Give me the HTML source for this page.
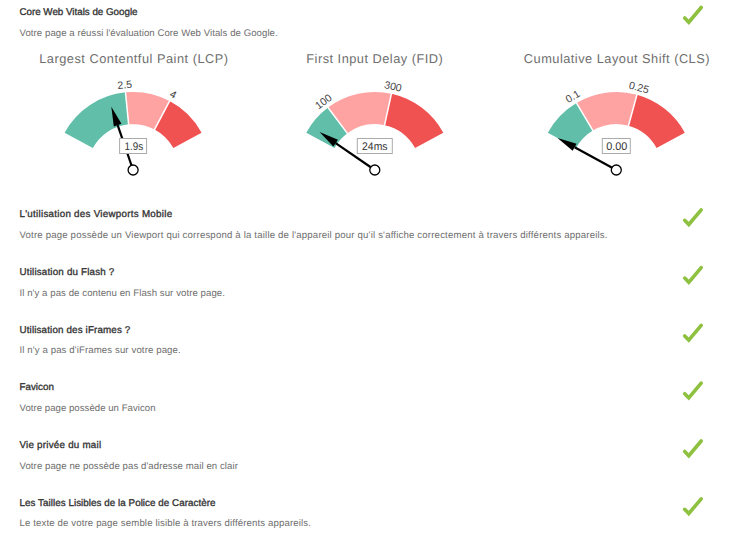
<!DOCTYPE html>
<html><head><meta charset="utf-8">
<style>
html,body{margin:0;padding:0;background:#fff;}
body{width:746px;height:543px;position:relative;overflow:hidden;font-family:"Liberation Sans",sans-serif;}
svg{position:absolute;left:0;top:0;font-family:"Liberation Sans",sans-serif;}
text{text-rendering:geometricPrecision;}
</style></head><body>
<svg width="746" height="543" viewBox="0 0 746 543">
<text x="19.5" y="14.50" font-size="9.8" fill="#333" stroke="#333" stroke-width="0.32" textLength="118.0" lengthAdjust="spacing">Core Web Vitals de Google</text>
<text x="19.5" y="35.50" font-size="9.6" fill="#6e6e6e" textLength="258.2" lengthAdjust="spacing">Votre page a réussi l'évaluation Core Web Vitals de Google.</text>
<text x="19.5" y="216.80" font-size="9.8" fill="#333" stroke="#333" stroke-width="0.32" textLength="152.6" lengthAdjust="spacing">L'utilisation des Viewports Mobile</text>
<text x="19.5" y="237.60" font-size="9.6" fill="#6e6e6e" textLength="588.0" lengthAdjust="spacing">Votre page possède un Viewport qui correspond à la taille de l'appareil pour qu'il s'affiche correctement à travers différents appareils.</text>
<text x="19.5" y="274.60" font-size="9.8" fill="#333" stroke="#333" stroke-width="0.32" textLength="94.8" lengthAdjust="spacing">Utilisation du Flash ?</text>
<text x="19.5" y="295.60" font-size="9.6" fill="#6e6e6e" textLength="205.4" lengthAdjust="spacing">Il n'y a pas de contenu en Flash sur votre page.</text>
<text x="19.5" y="333.10" font-size="9.8" fill="#333" stroke="#333" stroke-width="0.32" textLength="110.8" lengthAdjust="spacing">Utilisation des iFrames ?</text>
<text x="19.5" y="353.40" font-size="9.6" fill="#6e6e6e" textLength="161.2" lengthAdjust="spacing">Il n'y a pas d'iFrames sur votre page.</text>
<text x="19.5" y="390.20" font-size="9.8" fill="#333" stroke="#333" stroke-width="0.32" textLength="34.4" lengthAdjust="spacing">Favicon</text>
<text x="19.5" y="411.20" font-size="9.6" fill="#6e6e6e" textLength="136.0" lengthAdjust="spacing">Votre page possède un Favicon</text>
<text x="19.5" y="448.00" font-size="9.8" fill="#333" stroke="#333" stroke-width="0.32" textLength="81.6" lengthAdjust="spacing">Vie privée du mail</text>
<text x="19.5" y="469.00" font-size="9.6" fill="#6e6e6e" textLength="218.4" lengthAdjust="spacing">Votre page ne possède pas d'adresse mail en clair</text>
<text x="19.5" y="505.80" font-size="9.8" fill="#333" stroke="#333" stroke-width="0.32" textLength="196.0" lengthAdjust="spacing">Les Tailles Lisibles de la Police de Caractère</text>
<text x="19.5" y="526.00" font-size="9.6" fill="#6e6e6e" textLength="291.4" lengthAdjust="spacing">Le texte de votre page semble lisible à travers différents appareils.</text>
<text x="39.2" y="62.8" font-size="12.8" fill="#6e6e6e" textLength="188.9" lengthAdjust="spacing">Largest Contentful Paint (LCP)</text>
<text x="306.3" y="62.8" font-size="12.8" fill="#6e6e6e" textLength="136.4" lengthAdjust="spacing">First Input Delay (FID)</text>
<text x="523.8" y="62.8" font-size="12.8" fill="#6e6e6e" textLength="185.7" lengthAdjust="spacing">Cumulative Layout Shift (CLS)</text>
<path d="M64.62,132.66 A78,78 0 0 1 125.51,92.37 L128.64,124.37 A45.85,45.85 0 0 0 92.84,148.05 Z" fill="#61bea9"/>
<path d="M125.51,92.37 A78,78 0 0 1 169.61,101.07 L154.56,129.48 A45.85,45.85 0 0 0 128.64,124.37 Z" fill="#fea2a2"/>
<path d="M169.61,101.07 A78,78 0 0 1 201.58,132.66 L173.36,148.05 A45.85,45.85 0 0 0 154.56,129.48 Z" fill="#f05252"/>
<line x1="128.74" y1="125.36" x2="125.42" y2="91.37" stroke="#fff" stroke-width="1.5"/>
<line x1="154.09" y1="130.37" x2="170.08" y2="100.19" stroke="#fff" stroke-width="1.5"/>
<text x="124.83" y="85.40" transform="rotate(-5.58 124.83 85.40)" text-anchor="middle" dominant-baseline="central" font-size="10.5" fill="#444">2.5</text>
<text x="172.89" y="94.89" transform="rotate(27.91 172.89 94.89)" text-anchor="middle" dominant-baseline="central" font-size="10.5" fill="#444">4</text>
<line x1="133.10" y1="170.00" x2="117.65" y2="125.08" stroke="#000" stroke-width="2.2"/>
<path d="M111.31,106.64 L113.82,126.40 L121.48,123.76 Z" fill="#000"/>
<rect x="119.60" y="138.5" width="27" height="15" fill="#fff" stroke="#aaa" stroke-width="1"/>
<text x="124.50" y="150.1" font-size="11" fill="#333" textLength="18.70" lengthAdjust="spacingAndGlyphs">1.9s</text>
<circle cx="133.10" cy="170.00" r="5" fill="#fff" stroke="#000" stroke-width="1.3"/>
<path d="M306.32,132.66 A78,78 0 0 1 328.03,107.58 L347.31,133.31 A45.85,45.85 0 0 0 334.54,148.05 Z" fill="#61bea9"/>
<path d="M328.03,107.58 A78,78 0 0 1 391.39,93.78 L384.55,125.20 A45.85,45.85 0 0 0 347.31,133.31 Z" fill="#fea2a2"/>
<path d="M391.39,93.78 A78,78 0 0 1 443.28,132.66 L415.06,148.05 A45.85,45.85 0 0 0 384.55,125.20 Z" fill="#f05252"/>
<line x1="347.91" y1="134.11" x2="327.43" y2="106.78" stroke="#fff" stroke-width="1.5"/>
<line x1="384.34" y1="126.18" x2="391.60" y2="92.81" stroke="#fff" stroke-width="1.5"/>
<text x="323.84" y="101.97" transform="rotate(-36.84 323.84 101.97)" text-anchor="middle" dominant-baseline="central" font-size="10.5" fill="#444">100</text>
<text x="392.88" y="86.94" transform="rotate(12.28 392.88 86.94)" text-anchor="middle" dominant-baseline="central" font-size="10.5" fill="#444">300</text>
<line x1="374.80" y1="170.00" x2="335.65" y2="143.10" stroke="#000" stroke-width="2.2"/>
<path d="M319.58,132.06 L333.36,146.44 L337.94,139.76 Z" fill="#000"/>
<rect x="357.30" y="138.5" width="35" height="15" fill="#fff" stroke="#aaa" stroke-width="1"/>
<text x="362.10" y="150.1" font-size="11" fill="#333" textLength="25.40" lengthAdjust="spacingAndGlyphs">24ms</text>
<circle cx="374.80" cy="170.00" r="5" fill="#fff" stroke="#000" stroke-width="1.3"/>
<path d="M547.82,132.66 A78,78 0 0 1 576.48,102.93 L592.89,130.58 A45.85,45.85 0 0 0 576.04,148.05 Z" fill="#61bea9"/>
<path d="M576.48,102.93 A78,78 0 0 1 636.95,94.78 L628.44,125.79 A45.85,45.85 0 0 0 592.89,130.58 Z" fill="#fea2a2"/>
<path d="M636.95,94.78 A78,78 0 0 1 684.78,132.66 L656.56,148.05 A45.85,45.85 0 0 0 628.44,125.79 Z" fill="#f05252"/>
<line x1="593.40" y1="131.44" x2="575.97" y2="102.07" stroke="#fff" stroke-width="1.5"/>
<line x1="628.17" y1="126.75" x2="637.21" y2="93.82" stroke="#fff" stroke-width="1.5"/>
<text x="572.90" y="96.91" transform="rotate(-30.70 572.90 96.91)" text-anchor="middle" dominant-baseline="central" font-size="10.5" fill="#444">0.1</text>
<text x="638.80" y="88.03" transform="rotate(15.35 638.80 88.03)" text-anchor="middle" dominant-baseline="central" font-size="10.5" fill="#444">0.25</text>
<line x1="616.30" y1="170.00" x2="574.60" y2="147.26" stroke="#000" stroke-width="2.2"/>
<path d="M557.48,137.93 L572.66,150.82 L576.53,143.71 Z" fill="#000"/>
<rect x="602.30" y="138.5" width="28" height="15" fill="#fff" stroke="#aaa" stroke-width="1"/>
<text x="606.30" y="150.1" font-size="11" fill="#333" textLength="21.10" lengthAdjust="spacingAndGlyphs">0.00</text>
<circle cx="616.30" cy="170.00" r="5" fill="#fff" stroke="#000" stroke-width="1.3"/>
<path d="M684.7,18.00 L688.8,22.20 L701.2,7.50" fill="none" stroke="#8dc13f" stroke-width="3.6" stroke-linecap="round" stroke-linejoin="miter"/>
<path d="M684.7,220.30 L688.8,224.50 L701.2,209.80" fill="none" stroke="#8dc13f" stroke-width="3.6" stroke-linecap="round" stroke-linejoin="miter"/>
<path d="M684.7,278.10 L688.8,282.30 L701.2,267.60" fill="none" stroke="#8dc13f" stroke-width="3.6" stroke-linecap="round" stroke-linejoin="miter"/>
<path d="M684.7,335.90 L688.8,340.10 L701.2,325.40" fill="none" stroke="#8dc13f" stroke-width="3.6" stroke-linecap="round" stroke-linejoin="miter"/>
<path d="M684.7,393.70 L688.8,397.90 L701.2,383.20" fill="none" stroke="#8dc13f" stroke-width="3.6" stroke-linecap="round" stroke-linejoin="miter"/>
<path d="M684.7,451.50 L688.8,455.70 L701.2,441.00" fill="none" stroke="#8dc13f" stroke-width="3.6" stroke-linecap="round" stroke-linejoin="miter"/>
<path d="M684.7,509.30 L688.8,513.50 L701.2,498.80" fill="none" stroke="#8dc13f" stroke-width="3.6" stroke-linecap="round" stroke-linejoin="miter"/>
</svg>
</body></html>
